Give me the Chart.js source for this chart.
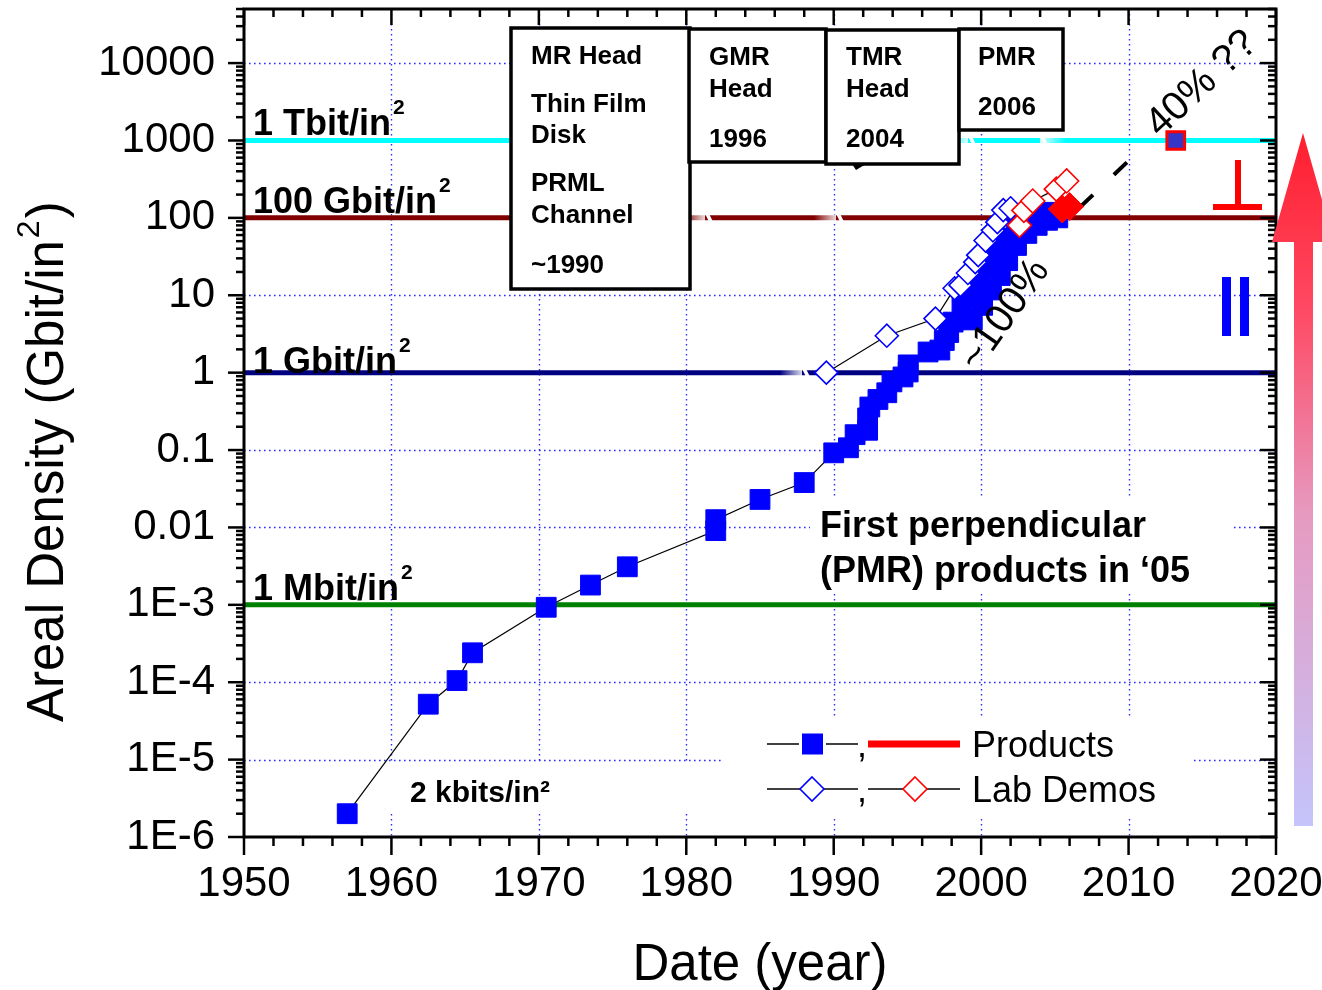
<!DOCTYPE html>
<html><head><meta charset="utf-8">
<script src="https://cdn.jsdelivr.net/npm/chart.js@4.4.0/dist/chart.umd.min.js"></script>
<style>html,body{margin:0;padding:0;background:#fff;overflow:hidden}canvas{display:block}</style>
</head><body>
<canvas id="c" width="1322" height="990"></canvas>
<script>
// ---------- data ----------
const xTickValues = [1950, 1960, 1970, 1980, 1990, 2000, 2010, 2020];
const yTickValues = [1e-6, 1e-5, 1e-4, 1e-3, 1e-2, 1e-1, 1, 10, 100, 1000, 10000];
const yTickLabels = ['1E-6', '1E-5', '1E-4', '1E-3', '0.01', '0.1', '1', '10', '100', '1000', '10000'];

const productYears = [1957.0, 1962.5, 1964.45, 1965.5, 1970.5, 1973.5, 1976.0, 1982.0, 1982.0, 1985.0, 1988.0,
  1990.0, 1991.0, 1991.45, 1992.3, 1992.3, 1992.45, 1993.0, 1993.6, 1993.95, 1994.7, 1995.05, 1995.05,
  1996.4, 1997.2, 1997.5, 1997.8, 1998.1, 1998.7, 1999.05, 1999.4, 1999.45, 1999.9, 2000.1, 2000.25,
  2000.7, 2000.7, 2001.1, 2001.3, 2001.8, 2001.8, 2002.4, 2002.4, 2003.1, 2003.1, 2003.8, 2003.8,
  2004.5, 2004.5, 2005.2];
const productValues = [2e-6, 5.2e-5, 1.05e-4, 2.4e-4, 9.3e-4, 1.8e-3, 3.1e-3, 0.0091, 0.0126, 0.023, 0.038,
  0.092, 0.107, 0.158, 0.18, 0.26, 0.36, 0.45, 0.55, 0.76, 0.88, 1.02, 1.26,
  1.85, 1.96, 2.6, 3.3, 4.5, 7, 9.5, 4.8, 12.8, 17, 7.4, 23,
  11.7, 31, 42, 18, 28, 55, 44, 70, 63, 88, 80, 108,
  93, 118, 100];

const labYears = [1989.5, 1993.6, 1996.9, 1998.2, 1998.6, 1999.1, 1999.6, 1999.8, 2000.3, 2000.8, 2001.1, 2001.5, 2002.0];
const labValues = [1.0, 3.0, 5.0, 12.3, 13.5, 19.4, 26.8, 33, 51, 69, 88, 126, 133];

const pmrLabYears = [2002.6, 2002.9, 2003.5, 2005.1, 2005.8];
const pmrLabValues = [80, 125, 165, 235, 300];

const pmrProductYears = [2005.5, 2006.0];
const pmrProductValues = [130, 140];

const trendYears = [2006.7, 2010.1];
const trendValues = [137, 570];

const targetYears = [2013.2];
const targetValues = [1000];

const milestoneValues = [1000, 100, 1, 0.001];
const milestoneLabels = ['1 Tbit/in', '100 Gbit/in', '1 Gbit/in', '1 Mbit/in'];

// ---------- styling ----------
const FONT = '"Liberation Sans", Arial, Helvetica, sans-serif';
const milestoneColors = ['#00ffff', '#800000', '#000080', '#008000'];
const pts = (xs, ys) => xs.map((x, i) => ({x, y: ys[i]}));

function seg(ctx, x1, y1, x2, y2) { ctx.beginPath(); ctx.moveTo(x1, y1); ctx.lineTo(x2, y2); ctx.stroke(); }

function slash(ctx, x, y, fadeLeft) {
  const g = fadeLeft ? ctx.createLinearGradient(x - 22, 0, x, 0) : ctx.createLinearGradient(x + 26, 0, x, 0);
  g.addColorStop(0, 'rgba(255,255,255,0)');
  g.addColorStop(1, 'rgba(255,255,255,0.85)');
  ctx.fillStyle = g;
  if (fadeLeft) ctx.fillRect(x - 22, y - 3.5, 22, 7); else ctx.fillRect(x, y - 3.5, 26, 7);
  ctx.fillStyle = '#fff';
  ctx.beginPath();
  ctx.moveTo(x, y - 4); ctx.lineTo(x + 4, y - 4); ctx.lineTo(x + 8, y + 4); ctx.lineTo(x + 4, y + 4);
  ctx.closePath(); ctx.fill();
}

const decor = {
  id: 'decor',
  beforeDatasetsDraw(chart) {
    const {ctx, chartArea: a, scales: {x, y}} = chart;
    ctx.save();
    ctx.strokeStyle = '#2b2bff'; ctx.lineWidth = 1.4; ctx.setLineDash([1.6, 3.4]);
    xTickValues.slice(1, -1).forEach(v => {
      const px = Math.round(x.getPixelForValue(v)) + 0.5;
      seg(ctx, px, a.top, px, a.bottom);
    });
    yTickValues.slice(1).forEach(v => {
      const py = Math.round(y.getPixelForValue(v)) + 0.5;
      seg(ctx, a.left, py, a.right, py);
    });
    ctx.setLineDash([]);
    ctx.fillStyle = '#fff';
    ctx.fillRect(810, 498, 422, 94);   // text block background
    ctx.fillRect(722, 716, 470, 102);  // legend background
    ctx.fillRect(380, 762, 320, 50);   // 2 kbits label background
    ctx.restore();
  },
  afterDatasetsDraw(chart) {
    const {ctx, chartArea: a, scales: {x, y}} = chart;
    ctx.save();
    // white cuts on the level lines
    const yc = y.getPixelForValue(1000), yr = y.getPixelForValue(100), yn = y.getPixelForValue(1);
    slash(ctx, 705, yr, true); slash(ctx, 836, yr, true); slash(ctx, 802, yn, true);
    slash(ctx, 968, yc, true); slash(ctx, 1040, yc, false);

    // level labels
    ctx.fillStyle = '#000'; ctx.textBaseline = 'alphabetic'; ctx.textAlign = 'left';
    milestoneValues.forEach((v, i) => {
      const py = y.getPixelForValue(v);
      const base = py - (i === 2 ? 0 : 5);
      ctx.font = `bold 36px ${FONT}`;
      ctx.fillText(milestoneLabels[i], 253, base);
      const w = ctx.measureText(milestoneLabels[i]).width;
      ctx.font = `bold 21px ${FONT}`;
      ctx.fillText('2', 253 + w + 2, base - 21);
    });

    // technology boxes
    const boxes = [
      {x0: 511, y0: 28, x1: 690, y1: 289, tx: 531, lines: [['MR Head', 64], ['Thin Film', 112], ['Disk', 143], ['PRML', 191], ['Channel', 223], ['~1990', 273]]},
      {x0: 689, y0: 29, x1: 826, y1: 162, tx: 709, lines: [['GMR', 65], ['Head', 97], ['1996', 147]]},
      {x0: 826, y0: 30, x1: 959, y1: 164, tx: 846, lines: [['TMR', 65], ['Head', 97], ['2004', 147]]},
      {x0: 959, y0: 29, x1: 1063, y1: 130, tx: 978, lines: [['PMR', 65], ['2006', 115]]}
    ];
    boxes.forEach(b => {
      ctx.fillStyle = '#fff';
      ctx.fillRect(b.x0, b.y0, b.x1 - b.x0, b.y1 - b.y0);
      ctx.strokeStyle = '#000'; ctx.lineWidth = 3.5;
      ctx.strokeRect(b.x0, b.y0, b.x1 - b.x0, b.y1 - b.y0);
      ctx.fillStyle = '#000'; ctx.font = `bold 26px ${FONT}`;
      b.lines.forEach(([t, by]) => ctx.fillText(t, b.tx, by));
    });
    ctx.fillStyle = '#000';
    ctx.beginPath(); ctx.moveTo(852, 164); ctx.lineTo(866, 164); ctx.lineTo(856, 170); ctx.closePath(); ctx.fill();

    // notes
    ctx.font = `bold 36px ${FONT}`;
    ctx.fillText('First perpendicular', 820, 537);
    ctx.fillText('(PMR) products in \u201805', 820, 582);
    ctx.font = `bold 30px ${FONT}`;
    ctx.fillText('2 kbits/in\u00b2', 410, 802);

    // rotated rate labels
    ctx.font = `40px ${FONT}`; ctx.textAlign = 'center'; ctx.textBaseline = 'middle';
    ctx.save(); ctx.translate(1005, 315); ctx.rotate(-55 * Math.PI / 180); ctx.fillText('~100%', 0, 0); ctx.restore();
    ctx.save(); ctx.translate(1202, 84); ctx.rotate(-43 * Math.PI / 180); ctx.fillText('40% ??', 0, 0); ctx.restore();
    ctx.textAlign = 'left'; ctx.textBaseline = 'alphabetic';

    // perpendicular / parallel symbols
    ctx.fillStyle = '#ff0000';
    ctx.fillRect(1235, 160, 6, 48); ctx.fillRect(1213, 204, 49, 6);
    ctx.fillStyle = '#0000ff';
    ctx.fillRect(1222, 277, 9, 59); ctx.fillRect(1240, 277, 9, 59);

    // legend
    ctx.strokeStyle = '#000'; ctx.lineWidth = 1.5;
    const r1 = 744, r2 = 789;
    seg(ctx, 767, r1, 799, r1); seg(ctx, 826, r1, 858, r1);
    ctx.fillStyle = '#0000ff'; ctx.fillRect(802, r1 - 10.5, 21, 21);
    ctx.strokeStyle = '#ff0000'; ctx.lineWidth = 7; seg(ctx, 868, r1, 960, r1);
    ctx.strokeStyle = '#000'; ctx.lineWidth = 1.5;
    seg(ctx, 767, r2, 800, r2); seg(ctx, 824, r2, 858, r2);
    seg(ctx, 868, r2, 903, r2); seg(ctx, 927, r2, 960, r2);
    const diamond = (cx, cy, r, col) => {
      ctx.strokeStyle = col; ctx.lineWidth = 1.6; ctx.fillStyle = '#fff';
      ctx.beginPath(); ctx.moveTo(cx, cy - r); ctx.lineTo(cx + r, cy); ctx.lineTo(cx, cy + r); ctx.lineTo(cx - r, cy); ctx.closePath();
      ctx.fill(); ctx.stroke();
    };
    diamond(812, r2, 12, '#0000ff'); diamond(915, r2, 12, '#ff0000');
    ctx.fillStyle = '#000'; ctx.font = `36px ${FONT}`;
    ctx.fillText(',', 857, r1 + 13); ctx.fillText(',', 857, r2 + 13);
    ctx.fillText('Products', 972, r1 + 13); ctx.fillText('Lab Demos', 972, r2 + 13);

    // frame and ticks
    ctx.strokeStyle = '#000'; ctx.lineWidth = 3;
    ctx.strokeRect(a.left, a.top, a.right - a.left, a.bottom - a.top);
    ctx.lineWidth = 2.5;
    for (let e = -6; e <= 4; e++) {
      for (let m = 1; m <= 9; m++) {
        const v = m * Math.pow(10, e);
        if (v > y.max * 1.0001) break;
        const py = y.getPixelForValue(v);
        const len = m === 1 ? 16 : 8;
        seg(ctx, a.left - len, py, a.left, py);
        seg(ctx, a.right - len, py, a.right, py);
      }
    }
    for (let yr2 = 1950; yr2 <= 2020; yr2 += 2) {
      const px = x.getPixelForValue(yr2);
      const major = yr2 % 10 === 0;
      seg(ctx, px, a.top, px, a.top + (major ? 16 : 8));
      seg(ctx, px, a.bottom, px, a.bottom + (major ? 18 : 9));
    }

    // big arrow
    const g = ctx.createLinearGradient(0, 133, 0, 826);
    g.addColorStop(0, '#ff1e2e'); g.addColorStop(0.25, '#ff4862');
    g.addColorStop(0.55, '#e69ac0'); g.addColorStop(1, '#c4c4fb');
    ctx.fillStyle = g;
    ctx.beginPath();
    ctx.moveTo(1303, 133); ctx.lineTo(1334, 242); ctx.lineTo(1313, 242); ctx.lineTo(1313, 826);
    ctx.lineTo(1294, 826); ctx.lineTo(1294, 242); ctx.lineTo(1272, 242); ctx.closePath(); ctx.fill();

    // axis titles
    ctx.fillStyle = '#000'; ctx.font = `51px ${FONT}`; ctx.textAlign = 'center';
    ctx.fillText('Date (year)', (a.left + a.right) / 2, 980);
    ctx.textAlign = 'left';
    ctx.save(); ctx.translate(63, 722); ctx.rotate(-Math.PI / 2);
    const t1 = 'Areal Density (Gbit/in';
    ctx.fillText(t1, 0, 0);
    const w1 = ctx.measureText(t1).width;
    ctx.font = `32px ${FONT}`; ctx.fillText('2', w1 + 2, -24);
    const w2 = ctx.measureText('2').width;
    ctx.font = `51px ${FONT}`; ctx.fillText(')', w1 + w2 + 4, 0);
    ctx.restore();
    ctx.restore();
  }
};

new Chart(document.getElementById('c'), {
  type: 'scatter',
  data: {
    datasets: [
      {data: pts(pmrProductYears, pmrProductValues), pointStyle: 'rectRot', pointRadius: 14, pointBackgroundColor: '#ff0000', pointBorderColor: '#ff0000', pointBorderWidth: 1, showLine: false, order: 0},
      {data: pts(targetYears, targetValues), pointStyle: 'rect', pointRadius: 12.5, pointBackgroundColor: '#3535c8', pointBorderColor: '#ff0000', pointBorderWidth: 3, showLine: false, order: 0},
      {data: pts(pmrLabYears, pmrLabValues), showLine: true, borderColor: '#000', borderWidth: 1.2, pointStyle: 'rectRot', pointRadius: 12, pointBackgroundColor: '#fff', pointBorderColor: '#ff0000', pointBorderWidth: 1.6, order: 1},
      {data: pts(labYears, labValues), showLine: true, borderColor: '#000', borderWidth: 1.2, pointStyle: 'rectRot', pointRadius: 11.5, pointBackgroundColor: '#fff', pointBorderColor: '#0000ff', pointBorderWidth: 1.6, order: 2},
      {data: pts(productYears, productValues), showLine: true, borderColor: '#000', borderWidth: 1.2, pointStyle: 'rect', pointRadius: 14, pointBackgroundColor: '#0000ff', pointBorderColor: '#0000ff', pointBorderWidth: 1, order: 3},
      {data: pts(trendYears, trendValues), showLine: true, borderColor: '#000', borderWidth: 4, borderDash: [18, 29], pointRadius: 0, order: 4},
      ...milestoneValues.map((v, i) => ({
        data: [{x: xTickValues[0], y: v}, {x: xTickValues[xTickValues.length - 1], y: v}],
        showLine: true, borderColor: milestoneColors[i], borderWidth: 5, pointRadius: 0, order: 10
      }))
    ]
  },
  options: {
    responsive: false, animation: false, devicePixelRatio: 1, events: [],
    layout: {autoPadding: false, padding: {left: 0, top: 9, right: 46, bottom: 0}},
    plugins: {legend: {display: false}, tooltip: {enabled: false}},
    scales: {
      x: {
        type: 'linear', min: 1950, max: 2020,
        grid: {display: false, drawTicks: false}, border: {display: false},
        afterBuildTicks: s => { s.ticks = xTickValues.map(v => ({value: v})); },
        afterFit: s => { s.height = 153; s.paddingLeft = 0; s.paddingRight = 0; },
        ticks: {color: '#000', font: {family: FONT, size: 42, lineHeight: 1.2}, padding: 22, autoSkip: false, maxRotation: 0,
          callback: v => String(v)}
      },
      y: {
        type: 'logarithmic', min: 1e-6, max: 5e4,
        grid: {display: false, drawTicks: false}, border: {display: false},
        afterBuildTicks: s => { s.ticks = yTickValues.map(v => ({value: v})); },
        afterFit: s => { s.width = 244; s.paddingTop = 0; s.paddingBottom = 0; },
        ticks: {color: '#000', font: {family: FONT, size: 42}, padding: 29, autoSkip: false,
          callback: v => {
            const i = yTickValues.findIndex(t => Math.abs(Math.log10(t) - Math.log10(v)) < 1e-6);
            return i >= 0 ? yTickLabels[i] : '';
          }}
      }
    }
  },
  plugins: [decor]
});
</script>
</body></html>
